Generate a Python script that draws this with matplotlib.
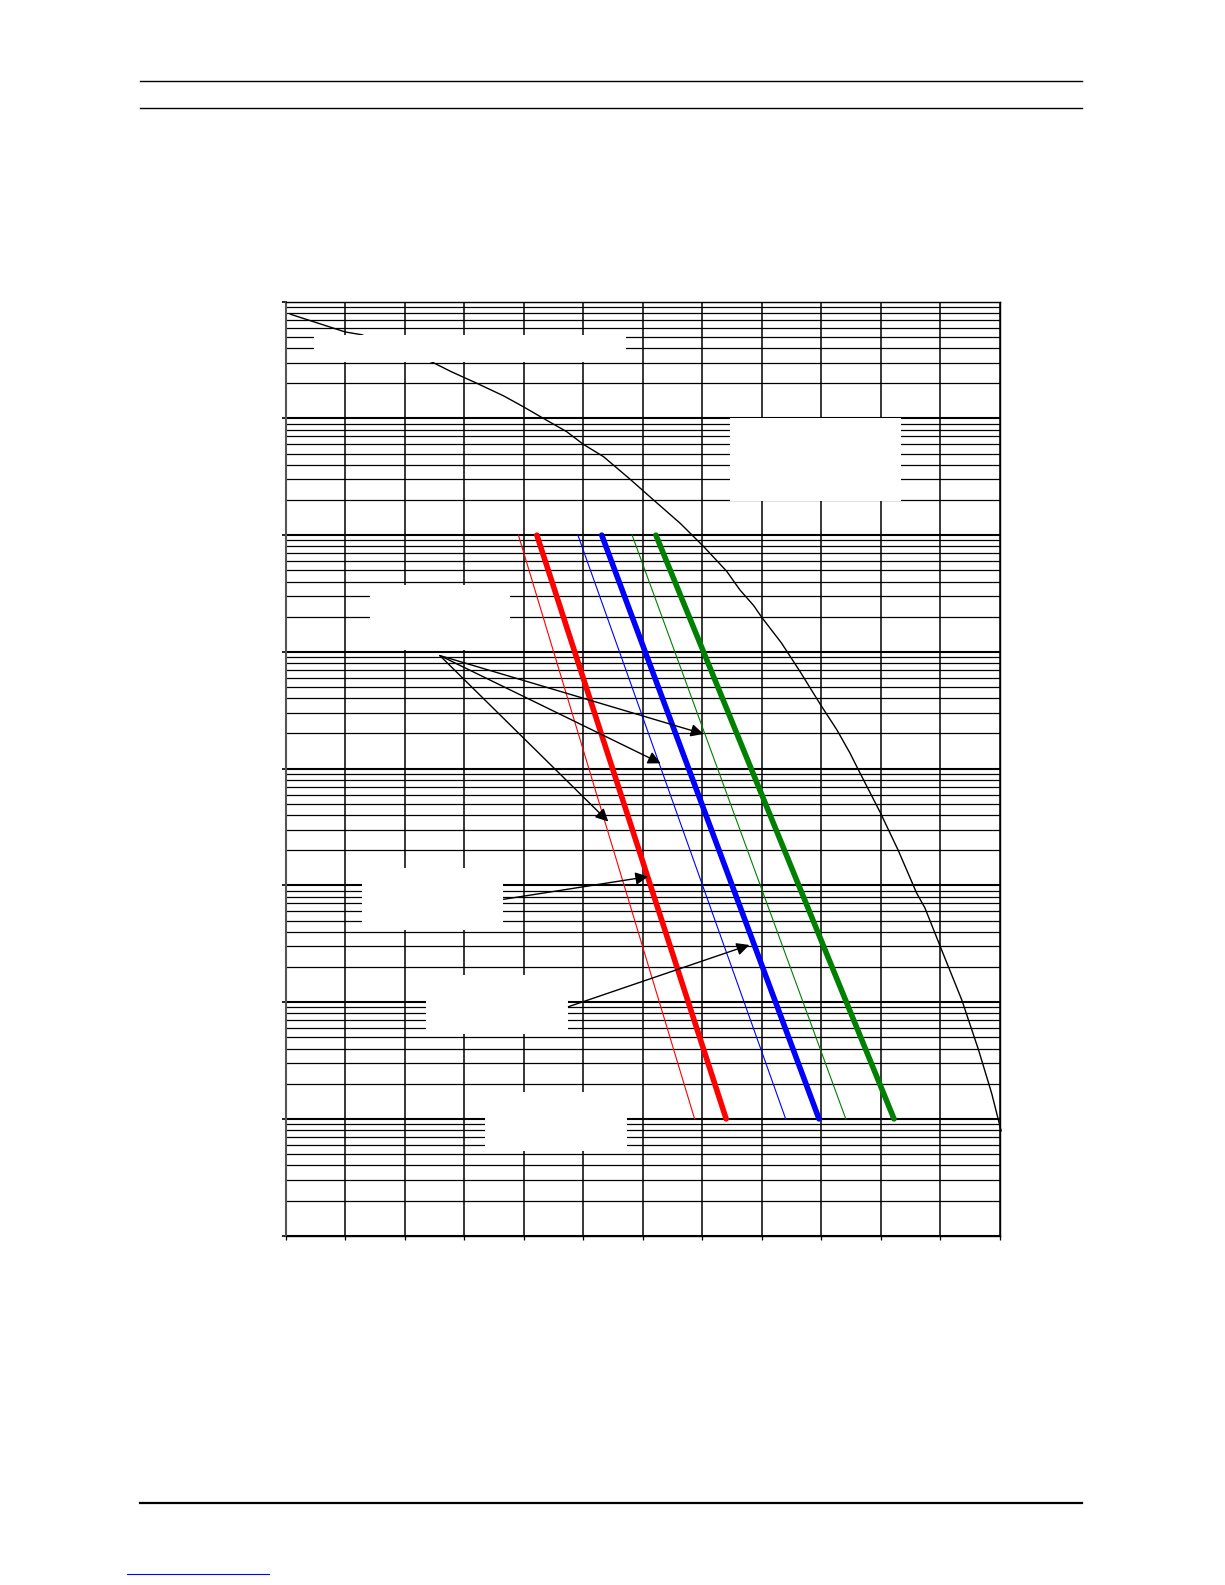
import numpy as np
import matplotlib.pyplot as plt
from matplotlib.lines import Line2D
from matplotlib.patches import Rectangle, FancyArrowPatch
from matplotlib.ticker import LogLocator, MultipleLocator, NullFormatter

# black limit curve
curve_x = [0.08, 0.46, 1.0, 1.28, 2.48, 2.79, 3.21, 3.66, 3.99, 4.33, 4.72, 5.0,
           5.34, 5.79, 6.18, 6.63, 7.02, 7.41, 7.63, 7.86, 8.01, 8.33, 8.64, 8.99,
           9.26, 9.48, 9.62, 9.99, 10.29, 10.6, 10.74, 11.02, 11.36, 11.64, 11.86, 12.02]
curve_y = [7.8e7, 6.75e7, 5.5e7, 5.2e7, 3.0e7, 2.5e7, 2.0e7, 1.56e7, 1.26e7, 1.0e7,
           7.7e6, 6.0e6, 4.7e6, 3.0e6, 2.0e6, 1.26e6, 8.0e5, 4.9e5, 3.4e5, 2.5e5,
           1.94e5, 1.19e5, 6.8e4, 3.5e4, 2.15e4, 1.36e4, 9.8e3, 4.2e3, 2.0e3, 860,
           640, 280, 104, 39, 16.6, 7.9]

# straight lines, from 1e6 down to 1e1
line_y = [1e6, 1e1]
red_thin_x = [3.91, 6.87]
red_thick_x = [4.22, 7.40]
blue_thin_x = [4.91, 8.40]
blue_thick_x = [5.31, 8.96]
green_thin_x = [5.82, 9.41]
green_thick_x = [6.22, 10.22]

# arrows (start, end)
arrows = [
    ((2.59, 9.3e4), (7.02, 1.98e4)),
    ((2.59, 9.3e4), (6.30, 1.11e4)),
    ((2.59, 9.3e4), (5.42, 3.52e3)),
    ((3.66, 760), (6.09, 1190)),
    ((4.75, 91.4), (7.79, 309)),
]

# blank label areas (x0, x1, y0, y1)
label_boxes = [
    (0.48, 5.72, 3.02e7, 5.16e7),
    (7.47, 10.34, 1.96e6, 1.01e7),
    (1.42, 3.77, 1.035e5, 3.74e5),
    (1.28, 3.65, 415, 1410),
    (2.36, 4.74, 53.5, 171),
    (3.35, 5.73, 5.32, 17.0),
]

fig = plt.figure(figsize=(12.25, 15.85), dpi=100)
ax = fig.add_axes([0.2332, 0.2204, 0.5831, 0.5893])
ax.set_yscale('log')
ax.set_xlim(0, 12)
ax.set_ylim(1, 1e8)

# grid
ax.xaxis.set_major_locator(MultipleLocator(1))
ax.yaxis.set_major_locator(LogLocator(base=10, numticks=20))
ax.yaxis.set_minor_locator(LogLocator(base=10, subs=np.arange(2, 10), numticks=100))
ax.yaxis.set_minor_formatter(NullFormatter())
ax.set_xticklabels([])
ax.set_yticklabels([])
ax.set_axisbelow(True)
ax.grid(True, which='major', axis='y', color='black', lw=1.5)
ax.grid(True, which='minor', axis='y', color='black', lw=0.9)
ax.grid(True, which='major', axis='x', color='black', lw=1.1)
ax.tick_params(axis='x', direction='out', length=3, width=0.9, color='black')
ax.tick_params(axis='y', which='major', direction='out', length=3, width=1.2, color='black')
ax.tick_params(axis='y', which='minor', length=0)
for s in ['top', 'right', 'bottom']:
    ax.spines[s].set_linewidth(1.0)
ax.spines['left'].set_color('#555555')
ax.spines['left'].set_linewidth(1.5)

ax.plot(curve_x, curve_y, color='black', lw=1.0, zorder=2, clip_on=False)

for bx0, bx1, by0, by1 in label_boxes:
    ax.add_patch(Rectangle((bx0, by0), bx1 - bx0, by1 - by0, facecolor='white',
                           edgecolor='none', zorder=3))

ax.plot(red_thin_x, line_y, color='red', lw=0.8, zorder=4)
ax.plot(red_thick_x, line_y, color='red', lw=4, solid_capstyle='round', zorder=4)
ax.plot(blue_thin_x, line_y, color='blue', lw=0.8, zorder=4)
ax.plot(blue_thick_x, line_y, color='blue', lw=4, solid_capstyle='round', zorder=4)
ax.plot(green_thin_x, line_y, color='green', lw=0.8, zorder=4)
ax.plot(green_thick_x, line_y, color='green', lw=4, solid_capstyle='round', zorder=4)

for start, end in arrows:
    ax.add_patch(FancyArrowPatch(start, end, arrowstyle='-|>', mutation_scale=19,
                                 color='black', lw=1.0, shrinkA=0, shrinkB=0, zorder=5))

# page decoration
def hline(y, x0, x1, lw, color='black'):
    fig.add_artist(Line2D([x0, x1], [y, y], transform=fig.transFigure, color=color, lw=lw))

hline(0.9492, 0.1143, 0.8833, 1.0)
hline(0.9317, 0.1143, 0.8833, 1.0)
hline(0.0519, 0.1143, 0.8833, 1.6)
hline(0.0068, 0.1037, 0.2196, 0.8, color='blue')

fig.savefig('out.png', dpi=100)
